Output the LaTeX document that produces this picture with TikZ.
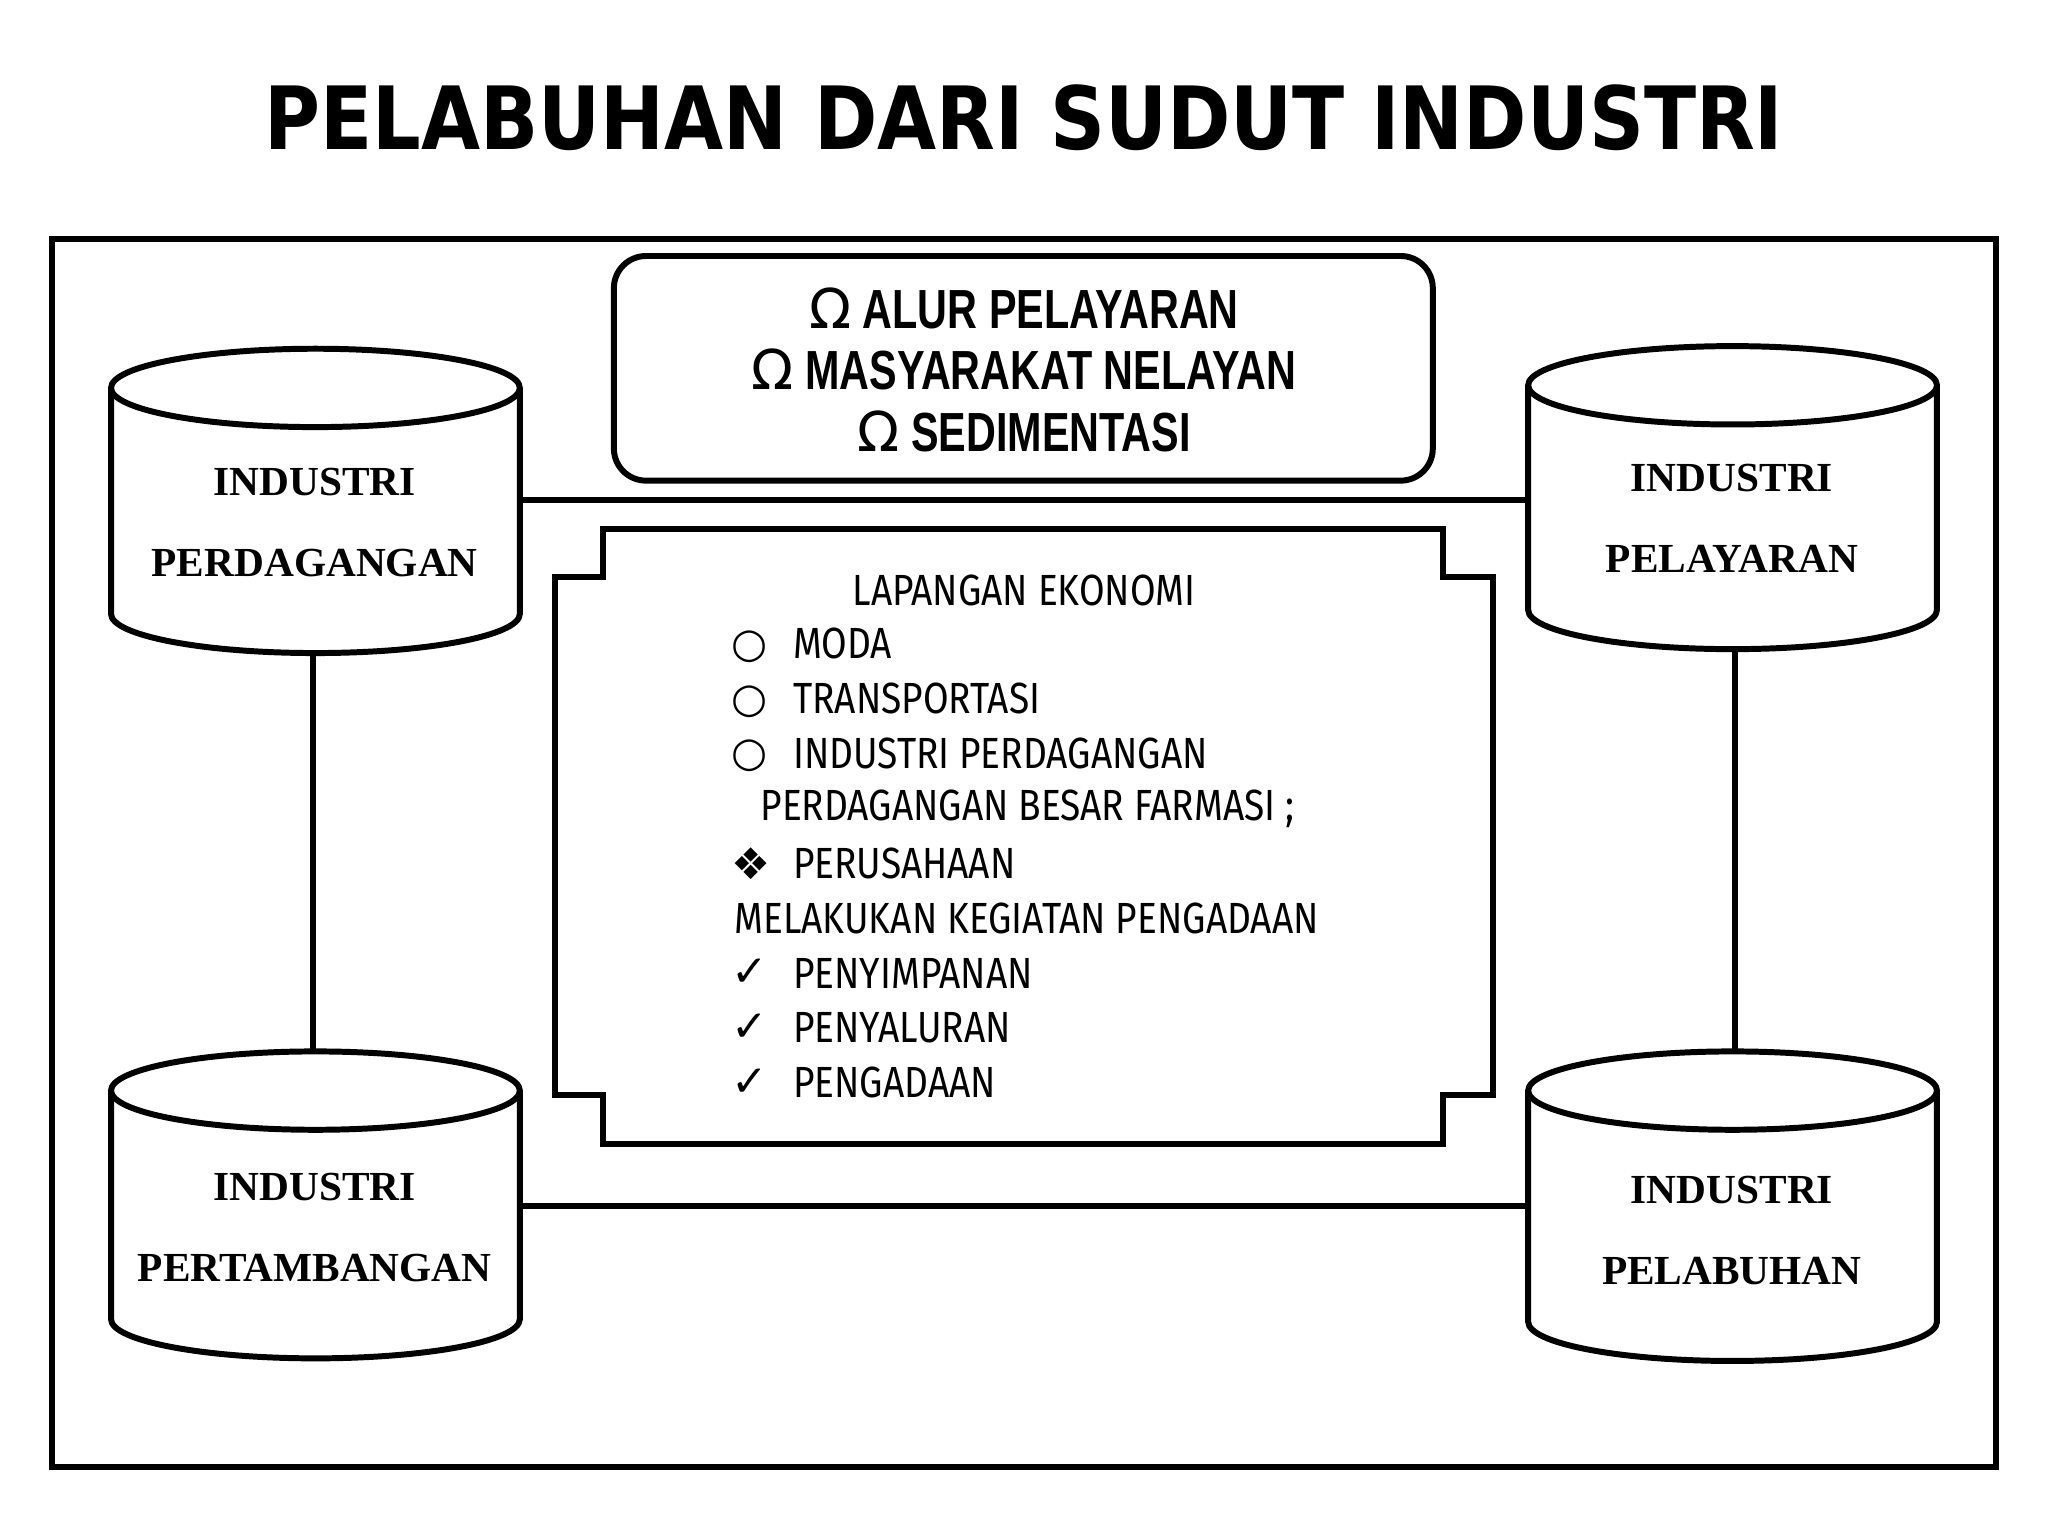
\documentclass[tikz,border=0pt]{standalone}
\usepackage{fontspec}
\setmainfont{Liberation Serif}
\newfontfamily\titlefont{DejaVu Sans}
\newfontfamily\symfont{DejaVu Sans}
\newfontfamily\handfont{Fira Sans}[FakeStretch=0.85]
\newfontfamily\topfont{Liberation Sans}[FakeStretch=0.75]
\begin{document}
\begin{tikzpicture}[x=0.01cm,y=-0.01cm,line width=1.3pt,
  cyl/.style={font=\bfseries\fontsize{9}{11}\selectfont},
  ct/.style={font=\handfont\fontsize{9.5}{11}\selectfont,anchor=west,inner sep=0pt},
  tt/.style={font=\topfont\bfseries\fontsize{12}{14}\selectfont,inner sep=0pt}]
\useasboundingbox (0,0) rectangle (1568,1176);
\node[font=\titlefont\bfseries\fontsize{19}{22}\selectfont,xscale=0.875] (title) at (784,90) {PELABUHAN DARI SUDUT INDUSTRI};
\draw (40,183) rectangle (1528,1123);
\draw[rounded corners=7pt] (470,196) rectangle (1097,368);
\node[tt] (t1) at (784,236) {{\symfont\mdseries Ω} ALUR PELAYARAN};
\node[tt] (t2) at (784,283) {{\symfont\mdseries Ω} MASYARAKAT NELAYAN};
\node[tt] (t3) at (784,330) {{\symfont\mdseries Ω} SEDIMENTASI};
\newcommand{\cylx}[4]{%
  \draw[fill=white] (#1,#3) -- (#1,#4) arc[start angle=180,end angle=0,x radius={(#2-#1)/2},y radius=30] -- (#2,#3);
  \draw[fill=white] ({(#1+#2)/2},#3) ellipse[x radius={(#2-#1)/2},y radius=30];}
\draw (398,383) -- (1170,383);
\draw (398,923) -- (1170,923);
\draw (240,480) -- (240,820);
\draw (1328,480) -- (1328,820);
\cylx{85}{398}{297}{470}
\cylx{1170}{1483}{295}{467}
\cylx{85}{398}{835}{1010}
\cylx{1170}{1483}{835}{1012}
\node[cyl] (a1) at (241,369) {INDUSTRI};
\node[cyl] (a2) at (241,431) {PERDAGANGAN};
\node[cyl] (b1) at (1326,366) {INDUSTRI};
\node[cyl] (b2) at (1326,428) {PELAYARAN};
\node[cyl] (c1) at (241,909) {INDUSTRI};
\node[cyl] (c2) at (241,971) {PERTAMBANGAN};
\node[cyl] (d1) at (1326,911) {INDUSTRI};
\node[cyl] (d2) at (1326,973) {PELABUHAN};
\draw (462,405) -- (1105,405) -- (1105,442) -- (1143,442) -- (1143,838) -- (1105,838) -- (1105,876) -- (462,876) -- (462,838) -- (425,838) -- (425,442) -- (462,442) -- cycle;
\node[ct,anchor=center] (h) at (784,452) {LAPANGAN EKONOMI};
\node[ct] (s1) at (558,495) {\symfont\small ○};
\node[ct] (l1) at (605,493) {MODA};
\node[ct] (s2) at (558,537) {\symfont\small ○};
\node[ct] (l2) at (605,535) {TRANSPORTASI};
\node[ct] (s3) at (558,579) {\symfont\small ○};
\node[ct] (l3) at (605,577) {INDUSTRI PERDAGANGAN};
\node[ct] (l4) at (580,619) {PERDAGANGAN BESAR FARMASI ;};
\node[ct] (s5) at (558,661) {\symfont ❖};
\node[ct] (l5) at (605,661) {PERUSAHAAN};
\node[ct] (l6) at (560,703) {MELAKUKAN KEGIATAN PENGADAAN};
\node[ct] (s7) at (558,745) {\symfont ✓};
\node[ct] (l7) at (605,745) {PENYIMPANAN};
\node[ct] (s8) at (558,787) {\symfont ✓};
\node[ct] (l8) at (605,787) {PENYALURAN};
\node[ct] (s9) at (558,829) {\symfont ✓};
\node[ct] (l9) at (605,829) {PENGADAAN};
\end{tikzpicture}
\end{document}
